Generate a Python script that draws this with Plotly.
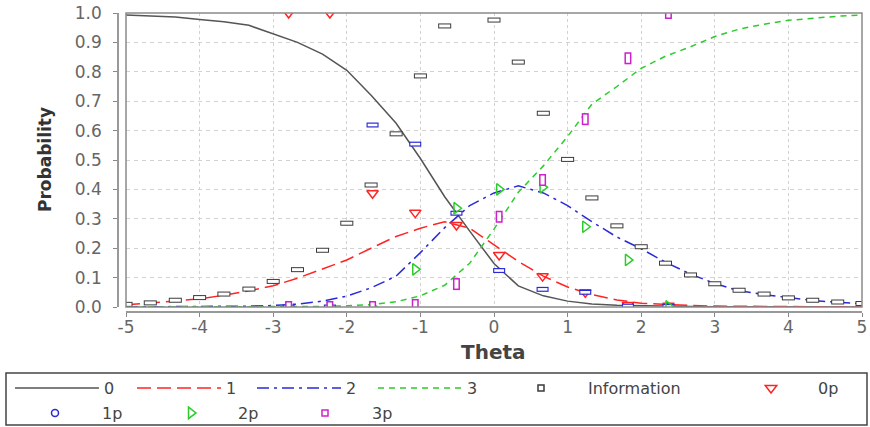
import plotly.graph_objects as go

# Ability grid (theta) at which the category curves and information are evaluated
theta = [-5.0, -4.67, -4.33, -4.0, -3.67, -3.33, -3.0, -2.67, -2.33, -2.0, -1.67,
         -1.33, -1.0, -0.67, -0.33, 0.0, 0.33, 0.67, 1.0, 1.33, 1.67, 2.0, 2.33,
         2.67, 3.0, 3.33, 3.67, 4.0, 4.33, 4.67, 5.0]

# Category response curves
prob_0 = [0.993, 0.990, 0.986, 0.978, 0.970, 0.958, 0.928, 0.900, 0.860, 0.805, 0.720,
          0.625, 0.505, 0.375, 0.258, 0.148, 0.072, 0.038, 0.020, 0.010, 0.006, 0.004,
          0.003, 0.002, 0.001, 0.001, 0.001, 0.0005, 0.0005, 0.0003, 0.0003]
prob_1 = [0.008, 0.013, 0.020, 0.028, 0.040, 0.055, 0.072, 0.098, 0.130, 0.160, 0.200,
          0.240, 0.268, 0.290, 0.268, 0.210, 0.155, 0.105, 0.068, 0.042, 0.024, 0.013,
          0.008, 0.005, 0.003, 0.002, 0.001, 0.001, 0.0005, 0.0005, 0.0003]
prob_2 = [0.0003, 0.0005, 0.0008, 0.001, 0.002, 0.003, 0.005, 0.010, 0.020, 0.037, 0.065,
          0.105, 0.185, 0.270, 0.345, 0.388, 0.412, 0.388, 0.345, 0.290, 0.238, 0.198,
          0.152, 0.112, 0.080, 0.055, 0.042, 0.031, 0.022, 0.016, 0.011]
prob_3 = [0.0, 0.0, 0.0, 0.0001, 0.0002, 0.0003, 0.0005, 0.001, 0.002, 0.004, 0.008,
          0.018, 0.038, 0.074, 0.149, 0.265, 0.390, 0.480, 0.580, 0.690, 0.750, 0.812,
          0.853, 0.885, 0.920, 0.945, 0.962, 0.975, 0.983, 0.989, 0.993]

# Item information on the same grid
information = [0.009, 0.014, 0.023, 0.032, 0.044, 0.061, 0.087, 0.127, 0.193, 0.285, 0.415,
               0.589, 0.786, 0.956, 1.030, 0.976, 0.833, 0.659, 0.502, 0.371, 0.276, 0.205,
               0.149, 0.109, 0.079, 0.057, 0.044, 0.031, 0.023, 0.017, 0.012]

# Observed proportions per ability group
group_theta = [-2.79, -2.23, -1.65, -1.07, -0.51, 0.07, 0.66, 1.24, 1.82, 2.37]
obs_0 = [1.0, 1.0, 0.387, 0.321, 0.279, 0.177, 0.105, 0.050, 0.007, 0.004]
obs_1 = [0.0, 0.0, 0.619, 0.554, 0.319, 0.124, 0.060, 0.050, 0.003, 0.002]
obs_2 = [0.0, 0.0, 0.0, 0.128, 0.336, 0.400, 0.407, 0.273, 0.160, 0.002]
obs_3 = [0.0, 0.0, 0.0, 0.007, 0.078, 0.307, 0.432, 0.639, 0.846, 1.0]

x_ticks = [-5, -4, -3, -2, -1, 0, 1, 2, 3, 4, 5]
x_tick_labels = ["-5", "-4", "-3", "-2", "-1", "0", "1", "2", "3", "4", "5"]
y_ticks = [0.0, 0.1, 0.2, 0.3, 0.4, 0.5, 0.6, 0.7, 0.8, 0.9, 1.0]
y_tick_labels = ["0.0", "0.1", "0.2", "0.3", "0.4", "0.5", "0.6", "0.7", "0.8", "0.9", "1.0"]

W, H = 870, 427
FONT = "DejaVu Sans"
RED, BLUE, GREEN, MAGENTA, DARK = "#ff2424", "#2a2ad8", "#2ccc2c", "#cc22cc", "#3a3a3a"


def px_x(p):
    return p / W


def px_y(p):
    return 1 - p / H


# Legend slots: (legend id, left edge px, top px); one entry per slot
ROW1, ROW2 = 371, 396
legend_slots = {
    "0": ("legend", 10, ROW1),
    "1": ("legend2", 132, ROW1),
    "2": ("legend3", 252, ROW1),
    "3": ("legend4", 373, ROW1),
    "Information": ("legend5", 494, ROW1),
    "0p": ("legend6", 724, ROW1),
    "1p": ("legend7", 8, ROW2),
    "2p": ("legend8", 144, ROW2),
    "3p": ("legend9", 278, ROW2),
}

fig = go.Figure()

curves = [
    ("0", prob_0, "#555555", "solid"),
    ("1", prob_1, RED, "14px,6px"),
    ("2", prob_2, BLUE, "12px,5px,3px,5px"),
    ("3", prob_3, GREEN, "6px,5px"),
]
for name, ys, color, dash in curves:
    fig.add_trace(go.Scatter(
        x=theta, y=ys, name=name, mode="lines", legend=legend_slots[name][0],
        line=dict(color=color, width=1.5, dash=dash),
    ))


def hollow_bar(x, y, color, symbol, size_out, w_out, size_in, w_in):
    """Outlined bar marker: a thick coloured stroke with a white core."""
    fig.add_trace(go.Scatter(
        x=x, y=y, mode="markers", showlegend=False,
        marker=dict(symbol=symbol, size=size_out, color=color,
                    line=dict(color=color, width=w_out)),
    ))
    fig.add_trace(go.Scatter(
        x=x, y=y, mode="markers", showlegend=False,
        marker=dict(symbol=symbol, size=size_in, color="white",
                    line=dict(color="white", width=w_in)),
    ))


def legend_key(name, symbol, color, size):
    fig.add_trace(go.Scatter(
        x=[None], y=[None], mode="markers", name=name, legend=legend_slots[name][0],
        marker=dict(symbol=symbol, size=size, color=color,
                    line=dict(color=color, width=1.5)),
    ))


# Information markers (flat rectangles)
hollow_bar(theta, information, DARK, "line-ew-open", 9.3, 5, 7.9, 3)
legend_key("Information", "square-open", DARK, 6)

# Observed category proportions
fig.add_trace(go.Scatter(
    x=group_theta, y=obs_0, name="0p", mode="markers", legend=legend_slots["0p"][0],
    marker=dict(symbol="triangle-down-open", size=10, color=RED, line=dict(color=RED, width=1.5)),
))
hollow_bar(group_theta, obs_1, BLUE, "line-ew-open", 8.6, 5, 7.0, 2.6)
legend_key("1p", "circle-open", BLUE, 7)
fig.add_trace(go.Scatter(
    x=group_theta, y=obs_2, name="2p", mode="markers", legend=legend_slots["2p"][0],
    marker=dict(symbol="triangle-right-open", size=10, color=GREEN,
                line=dict(color=GREEN, width=1.5)),
))
hollow_bar(group_theta, obs_3, MAGENTA, "line-ns-open", 8.6, 7, 6.4, 4)
legend_key("3p", "square-open", MAGENTA, 6)

axis_common = dict(
    ticks="outside", ticklen=4, tickwidth=1, tickcolor="#888888",
    showline=True, linecolor="#999999", linewidth=1.5,
    showgrid=True, gridcolor="#d2d2d2", gridwidth=1, zeroline=False,
    tickfont=dict(family=FONT, size=17, color="#666666"),
)

legends = {}
for name, (lid, left, top) in legend_slots.items():
    legends[lid] = dict(
        x=px_x(left), y=px_y(top), xref="paper", yref="paper",
        xanchor="left", yanchor="top", itemwidth=84,
        bgcolor="rgba(0,0,0,0)", borderwidth=0,
        font=dict(family=FONT, size=16, color="#444444"), itemclick=False,
    )

fig.update_layout(
    width=W, height=H,
    margin=dict(l=0, r=0, t=0, b=0, autoexpand=False),
    paper_bgcolor="white", plot_bgcolor="white",
    font=dict(family=FONT),
    xaxis=dict(range=[-5, 5], domain=[px_x(126), px_x(862)], anchor="free",
               position=px_y(312), tickvals=x_ticks, ticktext=x_tick_labels,
               griddash="dot", ticklabelstandoff=-4, **axis_common),
    yaxis=dict(range=[0, 1], domain=[px_y(307), px_y(13)], anchor="free",
               position=px_x(118), tickvals=y_ticks, ticktext=y_tick_labels,
               griddash="4px,4px", ticklabelstandoff=8, **axis_common),
    showlegend=True,
    annotations=[
        dict(text="<b>Theta</b>", x=px_x(494), y=px_y(352), xref="paper", yref="paper",
             xanchor="center", yanchor="middle", showarrow=False,
             font=dict(family=FONT, size=20, color="#444444")),
        dict(text="<b>Probability</b>", x=px_x(45), y=px_y(160), xref="paper", yref="paper",
             xanchor="center", yanchor="middle", showarrow=False, textangle=-90,
             font=dict(family=FONT, size=17, color="#333333")),
    ],
    shapes=[
        # plot frame
        dict(type="rect", xref="x domain", yref="y domain", x0=0, x1=1, y0=0, y1=1,
             line=dict(color="#8a8a8a", width=1.5), layer="above"),
        # legend frame
        dict(type="rect", xref="paper", yref="paper", x0=px_x(6), x1=px_x(867),
             y0=px_y(425), y1=px_y(373), line=dict(color="#444444", width=1.5)),
    ],
)
fig.update_layout(**legends)

fig.write_html("out.html")
